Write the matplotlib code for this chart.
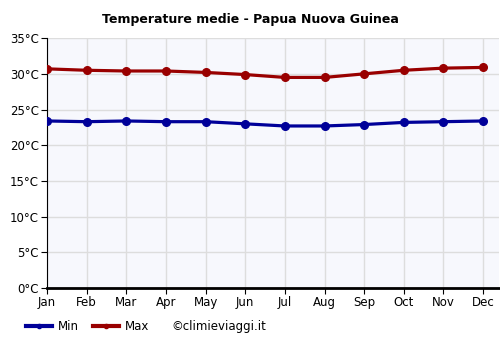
import matplotlib
matplotlib.use("Agg")
from matplotlib import pyplot as plt
from matplotlib.lines import Line2D

months = ["Jan", "Feb", "Mar", "Apr", "May", "Jun", "Jul", "Aug", "Sep", "Oct", "Nov", "Dec"]
t_min = [23.4, 23.3, 23.4, 23.3, 23.3, 23.0, 22.7, 22.7, 22.9, 23.2, 23.3, 23.4]
t_max = [30.7, 30.5, 30.4, 30.4, 30.2, 29.9, 29.5, 29.5, 30.0, 30.5, 30.8, 30.9]
yticks = [0, 5, 10, 15, 20, 25, 30, 35]

fig = plt.figure(figsize=(5, 3.5), dpi=100)
ax = fig.add_axes([0.094, 0.177, 0.904, 0.714])
ax.set_facecolor("#f7f8fd")

x = list(range(len(months)))
ax.plot(x, t_min, color="#000099", lw=2.3, marker="o", ms=5.5, zorder=3)
ax.plot(x, t_max, color="#990000", lw=2.3, marker="o", ms=5.5, zorder=3)

ax.set_xlim(0, 11.4)
ax.set_ylim(0, 35)
ax.set_xticks(x)
ax.set_xticklabels(months)
ax.set_yticks(yticks)
ax.set_yticklabels(["%d°C" % v for v in yticks])
ax.grid(True, color="#dddddd", lw=1)
ax.set_axisbelow(True)
for s in ["top", "right"]:
    ax.spines[s].set_visible(False)
ax.spines["left"].set_color("black")
ax.spines["bottom"].set_linewidth(2)
ax.tick_params(axis="both", labelsize=8.5, length=4, pad=2)

fig.text(0.5, 0.945, "Temperature medie - Papua Nuova Guinea", ha="center", va="center",
         fontsize=9, fontweight="bold")

handles = [Line2D([0], [0], color="#000099", lw=3, marker="o", ms=3),
           Line2D([0], [0], color="#990000", lw=3, marker="o", ms=3)]
fig.legend(handles, ["Min", "Max"], loc="center left", bbox_to_anchor=(0.03, 0.067),
           ncol=2, frameon=False, fontsize=8.5, handlelength=2.2, columnspacing=1.2,
           handletextpad=0.5)
fig.text(0.343, 0.067, "©climieviaggi.it", ha="left", va="center", fontsize=8.5)

fig.savefig("out.png")
